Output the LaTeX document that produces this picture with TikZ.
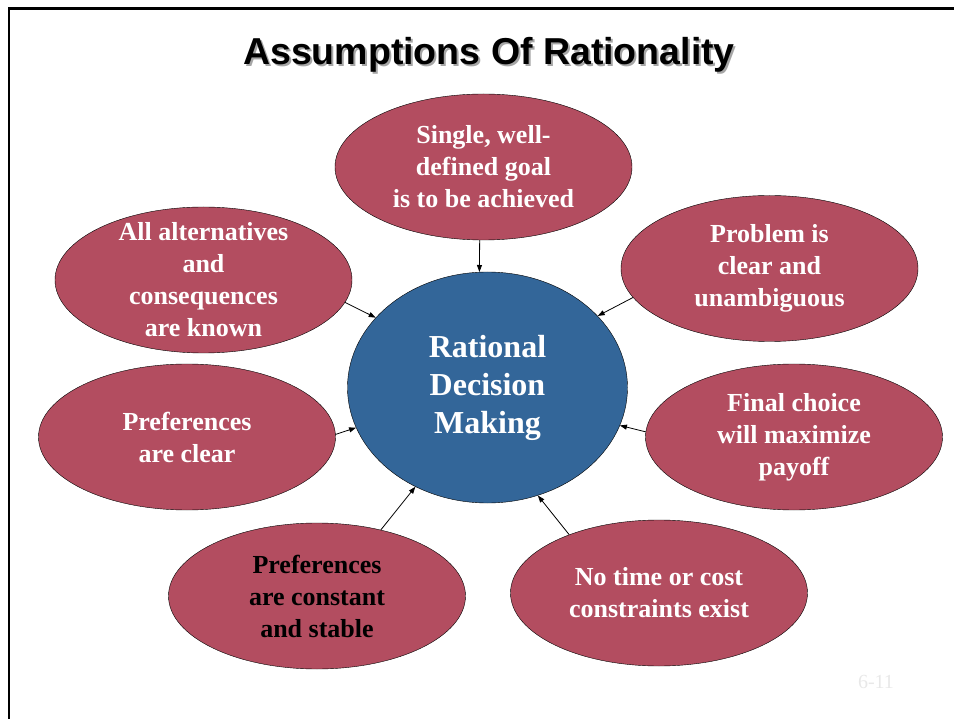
\documentclass[tikz,border=0pt]{standalone}
\usepackage{fontspec}
\setmainfont{Liberation Serif}
\newfontfamily\headfont{Liberation Sans}
\usetikzlibrary{shapes.geometric,arrows.meta}

\definecolor{goalred}{RGB}{179,77,96}
\definecolor{dmblue}{RGB}{51,102,153}

% heading text with a soft grey drop shadow behind it
\newcommand{\shadowed}[1]{\makebox[0pt][l]{\hspace{2pt}\raisebox{-2pt}{\color{black!35}#1}}#1}

\tikzset{
  goal/.style={shape=ellipse, draw=black, fill=goalred, minimum width=297pt, minimum height=146pt, inner sep=0pt},
  goaltext/.style={text=white, align=center, font=\bfseries\fontsize{26}{32}\selectfont},
  feed/.style={-{Triangle[length=7pt,width=5pt]}, line width=0.8pt}
}

\begin{document}
\begin{tikzpicture}[x=1pt,y=-1pt]
  \useasboundingbox (0,0) rectangle (954,719);
  \draw[line width=2.2pt] (9,719) -- (9,8.5) -- (954,8.5);

  \node[font=\headfont\bfseries\fontsize{37.5}{42}\selectfont] (head) at (489,56) {\shadowed{Assumptions Of Rationality}};

  \node[shape=ellipse, draw=black, fill=dmblue, minimum width=280pt, minimum height=231pt, text=white, align=center,
        font=\bfseries\fontsize{32}{38}\selectfont] (dm) at (487.5,387.5) {Rational\\Decision\\Making};

  \node[goal, label={[goaltext]center:{Single, well-\\defined goal\\is to be achieved}}] (goal) at (483.5,167) {};
  \node[goal, label={[goaltext]center:{All alternatives\\and\\consequences\\are known}}] (alt) at (203.5,280) {};
  \node[goal, label={[goaltext]center:{Problem is\\clear and\\unambiguous}}] (prob) at (769.5,268.5) {};
  \node[goal, label={[goaltext]center:{Preferences\\are clear}}] (pref) at (187,437) {};
  \node[goal, label={[goaltext]center:{Final choice\\will maximize\\payoff}}] (payoff) at (794,437) {};
  \node[goal, label={[goaltext, text=black]center:{Preferences\\are constant\\and stable}}] (stable) at (317,596) {};
  \node[goal, label={[goaltext]center:{No time or cost\\constraints exist}}] (cost) at (659,593) {};

  \draw[feed] (goal.-93) -- (dm.94);
  \draw[feed] (alt.-9) -- (dm.148);
  \draw[feed] (prob.192) -- (dm.33);
  \draw[feed] (pref.1.5) -- (dm.197);
  \draw[feed] (payoff.178.4) -- (dm.-16);
  \draw[feed] (stable.46) -- (dm.-126);
  \draw[feed] (cost.147.5) -- (dm.-65.5);

  \node[text=black!9, font=\fontsize{20}{24}\selectfont] (pageno) at (876,682) {6-11};
\end{tikzpicture}
\end{document}
